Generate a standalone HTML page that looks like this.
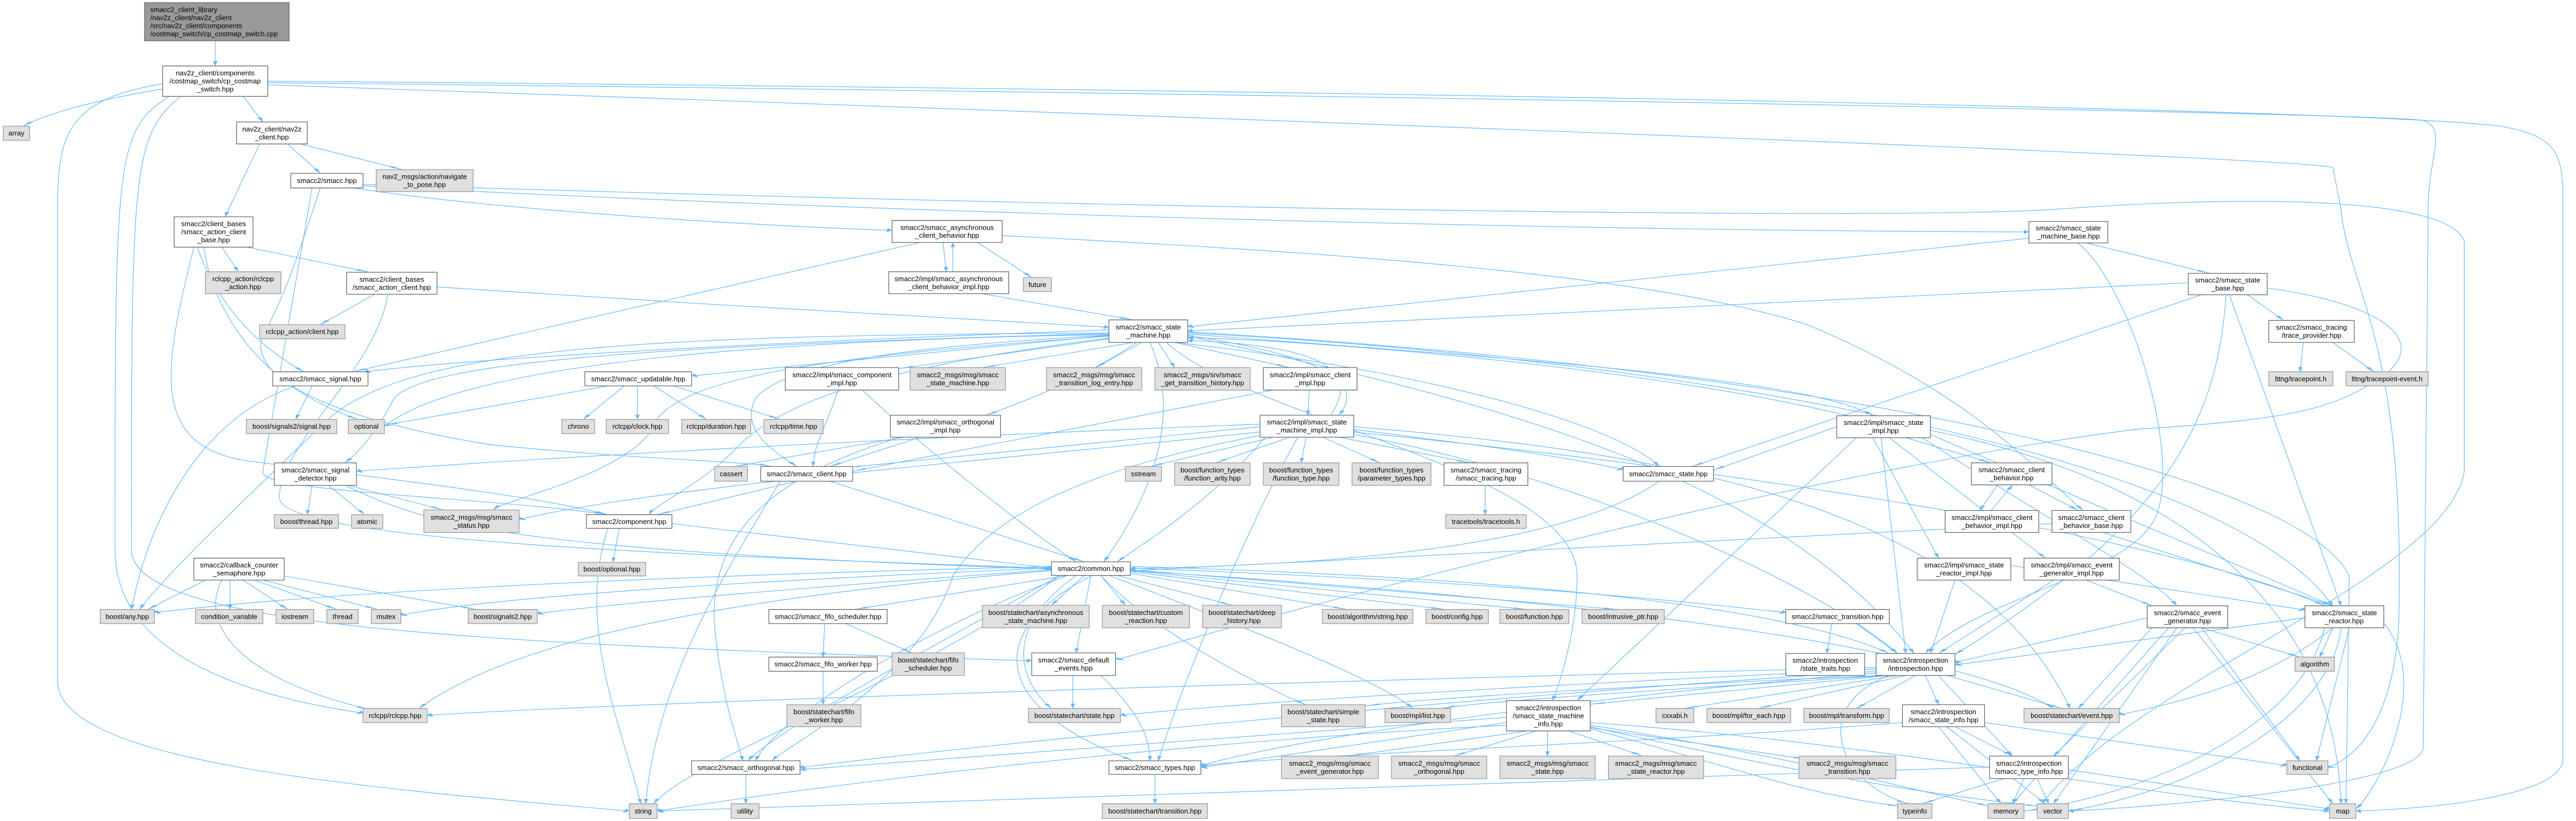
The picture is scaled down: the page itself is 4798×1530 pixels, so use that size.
<!DOCTYPE html>
<html><head><meta charset="utf-8">
<style>
html,body{margin:0;padding:0;background:#fff;}
svg{display:block;}
.e{fill:none;stroke:#63b8ff;stroke-width:1.2;vector-effect:non-scaling-stroke;marker-end:url(#v);}
.h{marker-end:url(#h);}
.w{fill:#fff;stroke:#666;stroke-width:1.3;vector-effect:non-scaling-stroke;}
.g{fill:#e0e0e0;stroke:#999;stroke-width:1.3;vector-effect:non-scaling-stroke;}
.t{fill:#999;stroke:#666;stroke-width:1.3;vector-effect:non-scaling-stroke;}
text{font-family:"Liberation Sans",Arial,sans-serif;font-size:13px;fill:#000;text-anchor:middle;}
text.s{text-anchor:start;}
</style></head><body>
<svg width="4798" height="1530" viewBox="0 0 1568 1568" preserveAspectRatio="none" xmlns="http://www.w3.org/2000/svg">
<defs>
<marker id="v" markerUnits="userSpaceOnUse" orient="auto" refX="9" refY="0" markerWidth="10" markerHeight="10" overflow="visible"><path d="M0,-1.4 L9,0 L0,1.4Z" fill="#63b8ff"/></marker>
<marker id="h" markerUnits="userSpaceOnUse" orient="auto" refX="3" refY="0" markerWidth="10" markerHeight="10" overflow="visible"><path d="M0,-4.2 L3,0 L0,4.2Z" fill="#63b8ff"/></marker>
</defs>
<g id="edges">
<path class="e" d="M131,78 L131,126"/>
<path class="e" d="M99,170 C60,190 30,215 14,241"/>
<path class="e" d="M148,184 L160,233"/>
<path class="e h" d="M99,160 C40,190 35,260 35,400 L35,1300 C35,1450 200,1500 383,1549"/>
<path class="e h" d="M103,184 C70,250 70,300 70,1050 C70,1250 150,1330 221,1362"/>
<path class="e h" d="M110,184 C80,260 80,330 80,1050 C80,1200 300,1230 628,1262"/>
<path class="e h" d="M163,155 C600,165 1400,200 1520,240 C1560,260 1560,300 1560,400 L1560,1450 C1560,1520 1480,1545 1434,1549"/>
<path class="e h" d="M163,158 C700,175 1450,215 1475,230 C1490,245 1478,300 1478,400 L1475,1430 C1470,1500 1320,1540 1259,1549"/>
<path class="e h" d="M163,162 C700,220 1400,300 1420,320 L1425,400 C1430,560 1465,650 1460,1200 C1455,1400 1430,1450 1417,1466"/>
<path class="e" d="M175,275 L195,331"/>
<path class="e" d="M183,275 L245,324"/>
<path class="e" d="M158,275 L137,414"/>
<path class="e h" d="M215,359 C300,400 450,430 543,440"/>
<path class="e h" d="M221,355 C500,400 900,440 1235,443"/>
<path class="e" d="M221,352 C700,400 1150,420 1250,400 C1380,370 1490,380 1500,460 L1500,900 C1490,1100 1300,1300 1243,1535"/>
<path class="e" d="M195,359 C185,450 175,560 160,640 C150,720 200,800 300,850 C400,880 450,880 470,891"/>
<path class="e" d="M190,359 L160,900 C155,940 300,950 370,983"/>
<path class="e" d="M135,472 L145,519"/>
<path class="e" d="M150,472 L225,520"/>
<path class="e" d="M120,472 C130,560 150,650 185,710"/>
<path class="e" d="M124,472 C130,600 160,740 218,801"/>
<path class="e" d="M118,472 C100,700 90,850 150,880 C250,920 330,950 370,983"/>
<path class="e" d="M228,562 L195,620"/>
<path class="e h" d="M266,548 C400,575 550,605 675,625"/>
<path class="e h" d="M236,562 C230,700 170,850 170,950 C170,1030 400,1060 640,1085"/>
<path class="e" d="M574,463 L576,519"/>
<path class="e" d="M580,519 L580,463"/>
<path class="e" d="M595,463 L628,530"/>
<path class="e" d="M560,463 L215,710"/>
<path class="e" d="M610,450 C800,480 1000,520 1100,620 C1200,750 1240,900 1268,975"/>
<path class="e" d="M598,561 L690,611"/>
<path class="e h" d="M1235,455 L723,624"/>
<path class="e" d="M1270,464 L1345,522"/>
<path class="e" d="M1265,464 C1300,560 1330,900 1310,1000 C1290,1100 1200,1150 1172,1248"/>
<path class="e h" d="M1332,540 L723,632"/>
<path class="e" d="M1368,563 L1390,612"/>
<path class="e" d="M1340,563 L1030,891"/>
<path class="e" d="M1357,563 L1425,1157"/>
<path class="e" d="M1355,563 C1350,800 1320,1000 1190,1250"/>
<path class="e h" d="M1380,550 C1450,580 1480,650 1450,720 C1420,780 1400,800 1300,820 C1100,900 800,1150 680,1260"/>
<path class="e" d="M1402,654 L1400,710"/>
<path class="e" d="M1420,654 L1445,710"/>
<path class="e h" d="M675,630 C500,650 300,680 222,710"/>
<path class="e h" d="M677,640 L421,718"/>
<path class="e" d="M680,645 L547,704"/>
<path class="e" d="M690,654 L598,702"/>
<path class="e" d="M695,654 L667,702"/>
<path class="e" d="M705,654 L715,702"/>
<path class="e" d="M715,654 L785,702"/>
<path class="e" d="M692,654 C660,720 630,760 600,793"/>
<path class="e" d="M723,640 C760,660 840,700 815,793"/>
<path class="e" d="M676,640 C560,660 480,690 460,760 C450,820 470,860 485,891"/>
<path class="e" d="M676,637 C400,660 260,690 240,760 C230,820 220,860 210,884"/>
<path class="e" d="M676,642 C500,680 420,720 400,800 C390,900 310,950 300,974"/>
<path class="e" d="M676,645 C540,700 480,760 450,850 C430,920 400,960 395,983"/>
<path class="e" d="M676,636 C400,640 250,660 200,800 C150,950 100,1100 85,1164"/>
<path class="e" d="M700,654 C720,800 700,950 672,1073"/>
<path class="e" d="M715,654 C850,700 980,800 1010,891"/>
<path class="e" d="M723,638 C900,680 1100,720 1140,794"/>
<path class="e" d="M723,636 C1000,680 1350,850 1420,1157"/>
<path class="e" d="M723,642 C900,760 1080,900 1165,1248"/>
<path class="e" d="M723,634 C1100,700 1400,900 1430,1100 L1428,1535"/>
<path class="e h" d="M676,639 C450,650 280,700 234,814"/>
<path class="e" d="M710,654 C760,800 960,900 960,1100 C960,1200 950,1300 945,1338"/>
<path class="e h" d="M1125,794 C1000,700 800,650 723,645"/>
<path class="e h" d="M810,793 C830,700 800,660 723,650"/>
<path class="e" d="M370,737 L234,812"/>
<path class="e" d="M380,737 L355,801"/>
<path class="e" d="M388,737 L388,801"/>
<path class="e" d="M398,737 L430,801"/>
<path class="e" d="M410,737 L475,801"/>
<path class="e" d="M190,737 L180,801"/>
<path class="e" d="M180,737 C120,800 90,1000 80,1164"/>
<path class="e" d="M510,745 C505,800 495,850 495,891"/>
<path class="e" d="M525,745 C560,850 620,1000 655,1073"/>
<path class="e" d="M797,745 L796,793"/>
<path class="e" d="M775,745 L519,900"/>
<path class="e" d="M560,835 L505,891"/>
<path class="e" d="M550,835 L447,891"/>
<path class="e" d="M548,835 C480,900 430,1000 435,1200 C440,1350 450,1420 452,1453"/>
<path class="e h" d="M767,810 C600,830 400,860 217,900"/>
<path class="e" d="M767,815 L515,893"/>
<path class="e" d="M775,835 L700,891"/>
<path class="e" d="M785,835 L740,884"/>
<path class="e" d="M795,835 L792,884"/>
<path class="e" d="M805,835 L840,884"/>
<path class="e" d="M815,835 L895,884"/>
<path class="e h" d="M824,820 C900,850 950,870 988,897"/>
<path class="e" d="M770,835 C740,950 700,1030 680,1073"/>
<path class="e h" d="M767,825 C600,880 400,930 316,992"/>
<path class="e" d="M770,830 C650,900 600,1000 580,1100 C560,1300 480,1420 470,1453"/>
<path class="e" d="M824,825 C1000,880 1300,1000 1415,1157"/>
<path class="e" d="M824,830 C950,900 1100,1100 1155,1248"/>
<path class="e" d="M824,815 C1000,860 1200,950 1260,1353"/>
<path class="e" d="M790,835 C760,1000 720,1300 705,1453"/>
<path class="e" d="M1118,815 L1043,898"/>
<path class="e" d="M1160,836 L1212,884"/>
<path class="e" d="M1140,836 L1180,1066"/>
<path class="e" d="M1150,836 L1245,1066"/>
<path class="e" d="M1145,836 L1160,1248"/>
<path class="e" d="M1175,830 L1420,1157"/>
<path class="e" d="M1170,836 C1250,1000 1310,1100 1325,1157"/>
<path class="e" d="M1175,822 C1300,900 1420,1100 1425,1535"/>
<path class="e" d="M1130,836 L960,1338"/>
<path class="e" d="M904,927 L904,983"/>
<path class="e" d="M190,927 L187,983"/>
<path class="e" d="M200,927 L222,983"/>
<path class="e" d="M212,927 L270,974"/>
<path class="e h" d="M210,927 C260,1000 300,1050 640,1087"/>
<path class="e" d="M485,919 L400,983"/>
<path class="e" d="M505,919 L660,1073"/>
<path class="e" d="M475,919 C440,1100 400,1300 393,1535"/>
<path class="e" d="M377,1009 L373,1074"/>
<path class="e h" d="M409,1000 L640,1085"/>
<path class="e" d="M370,1009 C350,1200 380,1400 390,1535"/>
<path class="e h" d="M1010,919 C950,1050 800,1080 688,1086"/>
<path class="e" d="M1235,926 L1265,975"/>
<path class="e" d="M1216,926 L1205,975"/>
<path class="e" d="M1212,975 L1225,926"/>
<path class="e h" d="M1249,1000 L688,1090"/>
<path class="e" d="M1280,1017 L1420,1157"/>
<path class="e h" d="M1224,1080 L1403,1165"/>
<path class="e" d="M1190,1108 L1175,1248"/>
<path class="e" d="M1270,1108 L1310,1157"/>
<path class="e" d="M1250,1108 L1180,1248"/>
<path class="e" d="M125,1108 L90,1164"/>
<path class="e" d="M140,1108 L140,1164"/>
<path class="e" d="M148,1108 L175,1164"/>
<path class="e" d="M155,1108 L205,1164"/>
<path class="e" d="M160,1108 L230,1164"/>
<path class="e" d="M173,1100 L290,1164"/>
<path class="e" d="M135,1108 C120,1200 150,1300 225,1355"/>
<path class="e h" d="M640,1082 C400,1100 200,1130 94,1170"/>
<path class="e h" d="M640,1085 C450,1110 300,1140 244,1175"/>
<path class="e h" d="M640,1088 C500,1120 380,1150 327,1172"/>
<path class="e" d="M650,1099 L520,1164"/>
<path class="e" d="M660,1099 L640,1156"/>
<path class="e" d="M670,1099 L685,1156"/>
<path class="e" d="M680,1099 L750,1156"/>
<path class="e" d="M688,1095 L820,1164"/>
<path class="e" d="M688,1092 L880,1164"/>
<path class="e" d="M688,1090 L930,1164"/>
<path class="e" d="M688,1088 L985,1164"/>
<path class="e h" d="M688,1085 C900,1110 1000,1140 1087,1170"/>
<path class="e" d="M664,1099 L655,1247"/>
<path class="e" d="M655,1099 C610,1200 620,1300 640,1353"/>
<path class="e" d="M670,1099 C700,1200 760,1300 795,1346"/>
<path class="e" d="M675,1099 C760,1200 840,1300 860,1353"/>
<path class="e" d="M650,1099 C560,1200 470,1380 460,1453"/>
<path class="e" d="M645,1099 C560,1250 480,1380 455,1453"/>
<path class="e" d="M665,1099 C600,1200 600,1350 690,1453"/>
<path class="e" d="M688,1082 C900,1100 1080,1150 1150,1248"/>
<path class="e" d="M688,1090 C1000,1150 1200,1250 1250,1353"/>
<path class="e" d="M640,1090 C400,1150 300,1250 255,1353"/>
<path class="e" d="M645,1099 C560,1300 420,1450 398,1535"/>
<path class="e" d="M502,1191 L501,1255"/>
<path class="e" d="M515,1191 L555,1247"/>
<path class="e" d="M501,1282 L501,1346"/>
<path class="e" d="M1115,1191 L1112,1248"/>
<path class="e" d="M1130,1191 L1155,1248"/>
<path class="e h" d="M1307,1180 L1190,1265"/>
<path class="e" d="M1340,1199 L1400,1255"/>
<path class="e" d="M1340,1199 L1400,1453"/>
<path class="e" d="M1335,1199 L1420,1535"/>
<path class="e" d="M1325,1199 L1250,1535"/>
<path class="e" d="M1320,1199 L1225,1535"/>
<path class="e" d="M1310,1199 L1265,1353"/>
<path class="e" d="M1330,1199 L1250,1444"/>
<path class="e h" d="M1403,1180 L1190,1270"/>
<path class="e" d="M1420,1199 L1412,1255"/>
<path class="e" d="M1430,1199 L1410,1453"/>
<path class="e" d="M1451,1190 C1480,1300 1450,1500 1434,1545"/>
<path class="e" d="M1425,1199 C1420,1350 1350,1500 1259,1549"/>
<path class="e h" d="M1420,1199 C1380,1300 1330,1340 1290,1365"/>
<path class="e" d="M1415,1199 C1400,1400 1300,1520 1232,1549"/>
<path class="e h" d="M1142,1275 C800,1300 400,1340 260,1366"/>
<path class="e h" d="M1142,1278 C1000,1300 800,1330 682,1366"/>
<path class="e" d="M1145,1290 C1000,1310 880,1330 831,1348"/>
<path class="e" d="M1148,1290 C1000,1320 900,1340 878,1353"/>
<path class="e" d="M1150,1290 L968,1345"/>
<path class="e" d="M1155,1290 L1025,1353"/>
<path class="e" d="M1160,1290 L1070,1353"/>
<path class="e" d="M1166,1290 L1130,1353"/>
<path class="e" d="M1172,1290 L1180,1346"/>
<path class="e" d="M1185,1290 L1255,1353"/>
<path class="e" d="M1180,1290 L1225,1444"/>
<path class="e h" d="M1142,1285 C1000,1320 800,1400 731,1462"/>
<path class="e h" d="M1142,1282 C900,1330 600,1420 487,1466"/>
<path class="e" d="M1150,1290 C1100,1350 1120,1500 1162,1535"/>
<path class="e" d="M930,1396 L820,1444"/>
<path class="e" d="M935,1396 L885,1444"/>
<path class="e" d="M942,1396 L942,1444"/>
<path class="e" d="M955,1396 L1000,1444"/>
<path class="e" d="M968,1390 L1100,1450"/>
<path class="e h" d="M917,1370 C800,1400 600,1440 487,1470"/>
<path class="e h" d="M917,1380 L731,1466"/>
<path class="e h" d="M917,1385 C700,1420 500,1500 400,1549"/>
<path class="e" d="M968,1385 C1100,1450 1150,1500 1212,1540"/>
<path class="e" d="M968,1388 C1100,1480 1180,1520 1242,1540"/>
<path class="e h" d="M968,1380 C1150,1420 1300,1520 1418,1549"/>
<path class="e" d="M968,1392 C1050,1460 1100,1520 1158,1540"/>
<path class="e" d="M1190,1388 L1225,1444"/>
<path class="e h" d="M1208,1380 L1392,1462"/>
<path class="e" d="M1180,1388 L1218,1535"/>
<path class="e" d="M1185,1388 L1245,1535"/>
<path class="e h" d="M1158,1380 C1000,1420 800,1440 731,1462"/>
<path class="e h" d="M1211,1465 C900,1500 600,1530 400,1549"/>
<path class="e" d="M1220,1487 L1170,1535"/>
<path class="e" d="M1232,1487 L1225,1535"/>
<path class="e" d="M1240,1487 L1247,1535"/>
<path class="e h" d="M1259,1470 L1418,1545"/>
<path class="e" d="M653,1290 L653,1353"/>
<path class="e" d="M670,1290 C690,1350 700,1400 700,1453"/>
<path class="e" d="M454,1479 L454,1535"/>
<path class="e" d="M703,1479 L703,1535"/>
</g>
<g id="nodes">
<rect class="t" x="88" y="5" width="88" height="73"/>
<text class="s" transform="translate(91.5,23) scale(.3268,1.0246)">smacc2_client_library<tspan x="0" dy="15">/nav2z_client/nav2z_client</tspan><tspan x="0" dy="15">/src/nav2z_client/components</tspan><tspan x="0" dy="15">/costmap_switch/cp_costmap_switch.cpp</tspan></text>
<rect class="w" x="99" y="126" width="64" height="58"/>
<text transform="translate(131,144.2) scale(.3268,1.0246)">nav2z_client/components<tspan x="0" dy="15">/costmap_switch/cp_costmap</tspan><tspan x="0" dy="15">_switch.hpp</tspan></text>
<rect class="g" x="2" y="241" width="16" height="27"/>
<text transform="translate(10,259) scale(.3268,1.0246)">array</text>
<rect class="w" x="144" y="233" width="43" height="42"/>
<text transform="translate(165.5,250.9) scale(.3268,1.0246)">nav2z_client/nav2z<tspan x="0" dy="15">_client.hpp</tspan></text>
<rect class="w" x="177" y="331" width="44" height="28"/>
<text transform="translate(199,349.6) scale(.3268,1.0246)">smacc2/smacc.hpp</text>
<rect class="g" x="229" y="324" width="59" height="42"/>
<text transform="translate(258.5,341.9) scale(.3268,1.0246)">nav2_msgs/action/navigate<tspan x="0" dy="15">_to_pose.hpp</tspan></text>
<rect class="w" x="106" y="414" width="48" height="58"/>
<text transform="translate(130,432.2) scale(.3268,1.0246)">smacc2/client_bases<tspan x="0" dy="15">/smacc_action_client</tspan><tspan x="0" dy="15">_base.hpp</tspan></text>
<rect class="g" x="125" y="519" width="46" height="42"/>
<text transform="translate(148,536.9) scale(.3268,1.0246)">rclcpp_action/rclcpp<tspan x="0" dy="15">_action.hpp</tspan></text>
<rect class="w" x="211" y="520" width="55" height="42"/>
<text transform="translate(238.5,537.9) scale(.3268,1.0246)">smacc2/client_bases<tspan x="0" dy="15">/smacc_action_client.hpp</tspan></text>
<rect class="g" x="158" y="620" width="52" height="27"/>
<text transform="translate(184,638.1) scale(.3268,1.0246)">rclcpp_action/client.hpp</text>
<rect class="w" x="543" y="421" width="67" height="42"/>
<text transform="translate(576.5,438.9) scale(.3268,1.0246)">smacc2/smacc_asynchronous<tspan x="0" dy="15">_client_behavior.hpp</tspan></text>
<rect class="g" x="623" y="530" width="17" height="27"/>
<text transform="translate(631.5,548.1) scale(.3268,1.0246)">future</text>
<rect class="w" x="541" y="519" width="73" height="42"/>
<text transform="translate(577.5,536.9) scale(.3268,1.0246)">smacc2/impl/smacc_asynchronous<tspan x="0" dy="15">_client_behavior_impl.hpp</tspan></text>
<rect class="w" x="1235" y="423" width="48" height="41"/>
<text transform="translate(1259,440.4) scale(.3268,1.0246)">smacc2/smacc_state<tspan x="0" dy="15">_machine_base.hpp</tspan></text>
<rect class="w" x="1332" y="522" width="48" height="41"/>
<text transform="translate(1356,539.4) scale(.3268,1.0246)">smacc2/smacc_state<tspan x="0" dy="15">_base.hpp</tspan></text>
<rect class="w" x="675" y="611" width="48" height="43"/>
<text transform="translate(699,629.4) scale(.3268,1.0246)">smacc2/smacc_state<tspan x="0" dy="15">_machine.hpp</tspan></text>
<rect class="w" x="1381" y="612" width="52" height="42"/>
<text transform="translate(1407,629.9) scale(.3268,1.0246)">smacc2/smacc_tracing<tspan x="0" dy="15">/trace_provider.hpp</tspan></text>
<rect class="g" x="1381" y="710" width="39" height="27"/>
<text transform="translate(1400.5,728.1) scale(.3268,1.0246)">lttng/tracepoint.h</text>
<rect class="g" x="1428" y="710" width="50" height="27"/>
<text transform="translate(1453,728.1) scale(.3268,1.0246)">lttng/tracepoint-event.h</text>
<rect class="w" x="166" y="710" width="58" height="27"/>
<text transform="translate(195,728.1) scale(.3268,1.0246)">smacc2/smacc_signal.hpp</text>
<rect class="w" x="356" y="710" width="65" height="27"/>
<text transform="translate(388.5,728.1) scale(.3268,1.0246)">smacc2/smacc_updatable.hpp</text>
<rect class="w" x="478" y="702" width="69" height="43"/>
<text transform="translate(512.5,720.4) scale(.3268,1.0246)">smacc2/impl/smacc_component<tspan x="0" dy="15">_impl.hpp</tspan></text>
<rect class="g" x="554" y="702" width="58" height="43"/>
<text transform="translate(583,720.4) scale(.3268,1.0246)">smacc2_msgs/msg/smacc<tspan x="0" dy="15">_state_machine.hpp</tspan></text>
<rect class="g" x="637" y="702" width="58" height="43"/>
<text transform="translate(666,720.4) scale(.3268,1.0246)">smacc2_msgs/msg/smacc<tspan x="0" dy="15">_transition_log_entry.hpp</tspan></text>
<rect class="g" x="703" y="702" width="58" height="43"/>
<text transform="translate(732,720.4) scale(.3268,1.0246)">smacc2_msgs/srv/smacc<tspan x="0" dy="15">_get_transition_history.hpp</tspan></text>
<rect class="w" x="769" y="702" width="57" height="43"/>
<text transform="translate(797.5,720.4) scale(.3268,1.0246)">smacc2/impl/smacc_client<tspan x="0" dy="15">_impl.hpp</tspan></text>
<rect class="g" x="150" y="801" width="55" height="27"/>
<text transform="translate(177.5,819.1) scale(.3268,1.0246)">boost/signals2/signal.hpp</text>
<rect class="g" x="212" y="801" width="22" height="27"/>
<text transform="translate(223,819.1) scale(.3268,1.0246)">optional</text>
<rect class="g" x="342" y="801" width="20" height="27"/>
<text transform="translate(352,819.1) scale(.3268,1.0246)">chrono</text>
<rect class="g" x="369" y="801" width="38" height="27"/>
<text transform="translate(388,819.1) scale(.3268,1.0246)">rclcpp/clock.hpp</text>
<rect class="g" x="415" y="801" width="42" height="27"/>
<text transform="translate(436,819.1) scale(.3268,1.0246)">rclcpp/duration.hpp</text>
<rect class="g" x="465" y="801" width="36" height="27"/>
<text transform="translate(483,819.1) scale(.3268,1.0246)">rclcpp/time.hpp</text>
<rect class="w" x="542" y="793" width="67" height="42"/>
<text transform="translate(575.5,810.9) scale(.3268,1.0246)">smacc2/impl/smacc_orthogonal<tspan x="0" dy="15">_impl.hpp</tspan></text>
<rect class="w" x="767" y="793" width="57" height="42"/>
<text transform="translate(795.5,810.9) scale(.3268,1.0246)">smacc2/impl/smacc_state<tspan x="0" dy="15">_machine_impl.hpp</tspan></text>
<rect class="w" x="1118" y="794" width="57" height="42"/>
<text transform="translate(1146.5,811.9) scale(.3268,1.0246)">smacc2/impl/smacc_state<tspan x="0" dy="15">_impl.hpp</tspan></text>
<rect class="w" x="167" y="884" width="50" height="43"/>
<text transform="translate(192,902.4) scale(.3268,1.0246)">smacc2/smacc_signal<tspan x="0" dy="15">_detector.hpp</tspan></text>
<rect class="g" x="435" y="891" width="20" height="28"/>
<text transform="translate(445,909.6) scale(.3268,1.0246)">cassert</text>
<rect class="w" x="463" y="891" width="56" height="28"/>
<text transform="translate(491,909.6) scale(.3268,1.0246)">smacc2/smacc_client.hpp</text>
<rect class="g" x="685" y="891" width="22" height="28"/>
<text transform="translate(696,909.6) scale(.3268,1.0246)">sstream</text>
<rect class="g" x="715" y="884" width="46" height="43"/>
<text transform="translate(738,902.4) scale(.3268,1.0246)">boost/function_types<tspan x="0" dy="15">/function_arity.hpp</tspan></text>
<rect class="g" x="769" y="884" width="46" height="43"/>
<text transform="translate(792,902.4) scale(.3268,1.0246)">boost/function_types<tspan x="0" dy="15">/function_type.hpp</tspan></text>
<rect class="g" x="823" y="884" width="48" height="43"/>
<text transform="translate(847,902.4) scale(.3268,1.0246)">boost/function_types<tspan x="0" dy="15">/parameter_types.hpp</tspan></text>
<rect class="w" x="879" y="884" width="51" height="43"/>
<text transform="translate(904.5,902.4) scale(.3268,1.0246)">smacc2/smacc_tracing<tspan x="0" dy="15">/smacc_tracing.hpp</tspan></text>
<rect class="w" x="988" y="891" width="55" height="28"/>
<text transform="translate(1015.5,909.6) scale(.3268,1.0246)">smacc2/smacc_state.hpp</text>
<rect class="w" x="1200" y="884" width="49" height="42"/>
<text transform="translate(1224.5,901.9) scale(.3268,1.0246)">smacc2/smacc_client<tspan x="0" dy="15">_behavior.hpp</tspan></text>
<rect class="g" x="880" y="983" width="49" height="26"/>
<text transform="translate(904.5,1000.6) scale(.3268,1.0246)">tracetools/tracetools.h</text>
<rect class="g" x="167" y="983" width="39" height="26"/>
<text transform="translate(186.5,1000.6) scale(.3268,1.0246)">boost/thread.hpp</text>
<rect class="g" x="214" y="983" width="19" height="26"/>
<text transform="translate(223.5,1000.6) scale(.3268,1.0246)">atomic</text>
<rect class="g" x="258" y="974" width="58" height="43"/>
<text transform="translate(287,992.4) scale(.3268,1.0246)">smacc2_msgs/msg/smacc<tspan x="0" dy="15">_status.hpp</tspan></text>
<rect class="w" x="357" y="983" width="52" height="26"/>
<text transform="translate(383,1000.6) scale(.3268,1.0246)">smacc2/component.hpp</text>
<rect class="w" x="1184" y="975" width="57" height="42"/>
<text transform="translate(1212.5,992.9) scale(.3268,1.0246)">smacc2/impl/smacc_client<tspan x="0" dy="15">_behavior_impl.hpp</tspan></text>
<rect class="w" x="1249" y="975" width="48" height="42"/>
<text transform="translate(1273,992.9) scale(.3268,1.0246)">smacc2/smacc_client<tspan x="0" dy="15">_behavior_base.hpp</tspan></text>
<rect class="g" x="352" y="1074" width="41" height="26"/>
<text transform="translate(372.5,1091.6) scale(.3268,1.0246)">boost/optional.hpp</text>
<rect class="w" x="118" y="1066" width="55" height="42"/>
<text transform="translate(145.5,1083.9) scale(.3268,1.0246)">smacc2/callback_counter<tspan x="0" dy="15">_semaphore.hpp</tspan></text>
<rect class="w" x="640" y="1073" width="48" height="26"/>
<text transform="translate(664,1090.6) scale(.3268,1.0246)">smacc2/common.hpp</text>
<rect class="w" x="1167" y="1066" width="57" height="42"/>
<text transform="translate(1195.5,1083.9) scale(.3268,1.0246)">smacc2/impl/smacc_state<tspan x="0" dy="15">_reactor_impl.hpp</tspan></text>
<rect class="w" x="1232" y="1066" width="58" height="42"/>
<text transform="translate(1261,1083.9) scale(.3268,1.0246)">smacc2/impl/smacc_event<tspan x="0" dy="15">_generator_impl.hpp</tspan></text>
<rect class="g" x="61" y="1164" width="33" height="27"/>
<text transform="translate(77.5,1182.1) scale(.3268,1.0246)">boost/any.hpp</text>
<rect class="g" x="119" y="1164" width="41" height="27"/>
<text transform="translate(139.5,1182.1) scale(.3268,1.0246)">condition_variable</text>
<rect class="g" x="168" y="1164" width="23" height="27"/>
<text transform="translate(179.5,1182.1) scale(.3268,1.0246)">iostream</text>
<rect class="g" x="199" y="1164" width="19" height="27"/>
<text transform="translate(208.5,1182.1) scale(.3268,1.0246)">thread</text>
<rect class="g" x="226" y="1164" width="18" height="27"/>
<text transform="translate(235,1182.1) scale(.3268,1.0246)">mutex</text>
<rect class="g" x="285" y="1164" width="42" height="27"/>
<text transform="translate(306,1182.1) scale(.3268,1.0246)">boost/signals2.hpp</text>
<rect class="w" x="468" y="1164" width="72" height="27"/>
<text transform="translate(504,1182.1) scale(.3268,1.0246)">smacc2/smacc_fifo_scheduler.hpp</text>
<rect class="g" x="598" y="1156" width="65" height="43"/>
<text transform="translate(630.5,1174.4) scale(.3268,1.0246)">boost/statechart/asynchronous<tspan x="0" dy="15">_state_machine.hpp</tspan></text>
<rect class="g" x="671" y="1156" width="53" height="43"/>
<text transform="translate(697.5,1174.4) scale(.3268,1.0246)">boost/statechart/custom<tspan x="0" dy="15">_reaction.hpp</tspan></text>
<rect class="g" x="732" y="1156" width="48" height="43"/>
<text transform="translate(756,1174.4) scale(.3268,1.0246)">boost/statechart/deep<tspan x="0" dy="15">_history.hpp</tspan></text>
<rect class="g" x="805" y="1164" width="55" height="27"/>
<text transform="translate(832.5,1182.1) scale(.3268,1.0246)">boost/algorithm/string.hpp</text>
<rect class="g" x="868" y="1164" width="38" height="27"/>
<text transform="translate(887,1182.1) scale(.3268,1.0246)">boost/config.hpp</text>
<rect class="g" x="913" y="1164" width="42" height="27"/>
<text transform="translate(934,1182.1) scale(.3268,1.0246)">boost/function.hpp</text>
<rect class="g" x="963" y="1164" width="50" height="27"/>
<text transform="translate(988,1182.1) scale(.3268,1.0246)">boost/intrusive_ptr.hpp</text>
<rect class="w" x="1087" y="1164" width="63" height="27"/>
<text transform="translate(1118.5,1182.1) scale(.3268,1.0246)">smacc2/smacc_transition.hpp</text>
<rect class="w" x="1307" y="1157" width="49" height="42"/>
<text transform="translate(1331.5,1174.9) scale(.3268,1.0246)">smacc2/smacc_event<tspan x="0" dy="15">_generator.hpp</tspan></text>
<rect class="w" x="1403" y="1157" width="48" height="42"/>
<text transform="translate(1427,1174.9) scale(.3268,1.0246)">smacc2/smacc_state<tspan x="0" dy="15">_reactor.hpp</tspan></text>
<rect class="w" x="468" y="1255" width="66" height="27"/>
<text transform="translate(501,1273.1) scale(.3268,1.0246)">smacc2/smacc_fifo_worker.hpp</text>
<rect class="g" x="543" y="1247" width="44" height="43"/>
<text transform="translate(565,1265.4) scale(.3268,1.0246)">boost/statechart/fifo<tspan x="0" dy="15">_scheduler.hpp</tspan></text>
<rect class="w" x="628" y="1247" width="51" height="43"/>
<text transform="translate(653.5,1265.4) scale(.3268,1.0246)">smacc2/smacc_default<tspan x="0" dy="15">_events.hpp</tspan></text>
<rect class="w" x="1087" y="1248" width="48" height="42"/>
<text transform="translate(1111,1265.9) scale(.3268,1.0246)">smacc2/introspection<tspan x="0" dy="15">/state_traits.hpp</tspan></text>
<rect class="w" x="1142" y="1248" width="48" height="42"/>
<text transform="translate(1166,1265.9) scale(.3268,1.0246)">smacc2/introspection<tspan x="0" dy="15">/introspection.hpp</tspan></text>
<rect class="g" x="1397" y="1255" width="24" height="27"/>
<text transform="translate(1409,1273.1) scale(.3268,1.0246)">algorithm</text>
<rect class="g" x="479" y="1346" width="45" height="42"/>
<text transform="translate(501.5,1363.9) scale(.3268,1.0246)">boost/statechart/fifo<tspan x="0" dy="15">_worker.hpp</tspan></text>
<rect class="g" x="221" y="1353" width="39" height="27"/>
<text transform="translate(240.5,1371.1) scale(.3268,1.0246)">rclcpp/rclcpp.hpp</text>
<rect class="g" x="626" y="1353" width="56" height="27"/>
<text transform="translate(654,1371.1) scale(.3268,1.0246)">boost/statechart/state.hpp</text>
<rect class="g" x="780" y="1346" width="51" height="42"/>
<text transform="translate(805.5,1363.9) scale(.3268,1.0246)">boost/statechart/simple<tspan x="0" dy="15">_state.hpp</tspan></text>
<rect class="g" x="843" y="1353" width="40" height="27"/>
<text transform="translate(863,1371.1) scale(.3268,1.0246)">boost/mpl/list.hpp</text>
<rect class="w" x="917" y="1338" width="51" height="58"/>
<text transform="translate(942.5,1356.2) scale(.3268,1.0246)">smacc2/introspection<tspan x="0" dy="15">/smacc_state_machine</tspan><tspan x="0" dy="15">_info.hpp</tspan></text>
<rect class="g" x="1008" y="1353" width="23" height="27"/>
<text transform="translate(1019.5,1371.1) scale(.3268,1.0246)">cxxabi.h</text>
<rect class="g" x="1039" y="1353" width="51" height="27"/>
<text transform="translate(1064.5,1371.1) scale(.3268,1.0246)">boost/mpl/for_each.hpp</text>
<rect class="g" x="1098" y="1353" width="52" height="27"/>
<text transform="translate(1124,1371.1) scale(.3268,1.0246)">boost/mpl/transform.hpp</text>
<rect class="w" x="1158" y="1346" width="50" height="42"/>
<text transform="translate(1183,1363.9) scale(.3268,1.0246)">smacc2/introspection<tspan x="0" dy="15">/smacc_state_info.hpp</tspan></text>
<rect class="g" x="1232" y="1353" width="58" height="27"/>
<text transform="translate(1261,1371.1) scale(.3268,1.0246)">boost/statechart/event.hpp</text>
<rect class="g" x="1392" y="1453" width="25" height="26"/>
<text transform="translate(1404.5,1470.6) scale(.3268,1.0246)">functional</text>
<rect class="w" x="421" y="1453" width="66" height="26"/>
<text transform="translate(454,1470.6) scale(.3268,1.0246)">smacc2/smacc_orthogonal.hpp</text>
<rect class="w" x="675" y="1453" width="56" height="26"/>
<text transform="translate(703,1470.6) scale(.3268,1.0246)">smacc2/smacc_types.hpp</text>
<rect class="g" x="780" y="1444" width="59" height="43"/>
<text transform="translate(809.5,1462.4) scale(.3268,1.0246)">smacc2_msgs/msg/smacc<tspan x="0" dy="15">_event_generator.hpp</tspan></text>
<rect class="g" x="847" y="1444" width="58" height="43"/>
<text transform="translate(876,1462.4) scale(.3268,1.0246)">smacc2_msgs/msg/smacc<tspan x="0" dy="15">_orthogonal.hpp</tspan></text>
<rect class="g" x="913" y="1444" width="58" height="43"/>
<text transform="translate(942,1462.4) scale(.3268,1.0246)">smacc2_msgs/msg/smacc<tspan x="0" dy="15">_state.hpp</tspan></text>
<rect class="g" x="979" y="1444" width="58" height="43"/>
<text transform="translate(1008,1462.4) scale(.3268,1.0246)">smacc2_msgs/msg/smacc<tspan x="0" dy="15">_state_reactor.hpp</tspan></text>
<rect class="g" x="1095" y="1444" width="59" height="43"/>
<text transform="translate(1124.5,1462.4) scale(.3268,1.0246)">smacc2_msgs/msg/smacc<tspan x="0" dy="15">_transition.hpp</tspan></text>
<rect class="w" x="1211" y="1444" width="48" height="43"/>
<text transform="translate(1235,1462.4) scale(.3268,1.0246)">smacc2/introspection<tspan x="0" dy="15">/smacc_type_info.hpp</tspan></text>
<rect class="g" x="383" y="1535" width="17" height="28"/>
<text transform="translate(391.5,1553.6) scale(.3268,1.0246)">string</text>
<rect class="g" x="445" y="1535" width="17" height="28"/>
<text transform="translate(453.5,1553.6) scale(.3268,1.0246)">utility</text>
<rect class="g" x="671" y="1535" width="64" height="28"/>
<text transform="translate(703,1553.6) scale(.3268,1.0246)">boost/statechart/transition.hpp</text>
<rect class="g" x="1155" y="1535" width="21" height="28"/>
<text transform="translate(1165.5,1553.6) scale(.3268,1.0246)">typeinfo</text>
<rect class="g" x="1210" y="1535" width="22" height="28"/>
<text transform="translate(1221,1553.6) scale(.3268,1.0246)">memory</text>
<rect class="g" x="1240" y="1535" width="19" height="28"/>
<text transform="translate(1249.5,1553.6) scale(.3268,1.0246)">vector</text>
<rect class="g" x="1418" y="1535" width="16" height="28"/>
<text transform="translate(1426,1553.6) scale(.3268,1.0246)">map</text>
</g>
</svg>
</body></html>
